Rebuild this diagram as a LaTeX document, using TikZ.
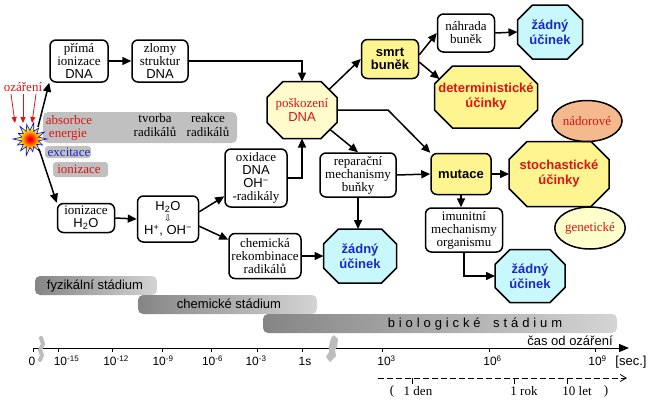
\documentclass[tikz,border=0pt]{standalone}
\usepackage{fontspec}
\setmainfont{Liberation Serif}
\setsansfont{Liberation Sans}
\newfontfamily\djv{DejaVu Sans}
\usetikzlibrary{arrows.meta,shapes.geometric,calc,backgrounds}
\definecolor{yel}{HTML}{FFF590}
\definecolor{pale}{HTML}{FFFBCC}
\definecolor{cyn}{HTML}{C8F8FC}
\definecolor{salm}{HTML}{F5B98E}
\definecolor{genc}{HTML}{FFFFCC}
\definecolor{rd}{HTML}{DC1414}
\definecolor{bl}{HTML}{1A28C8}
\definecolor{band}{HTML}{C0C0C0}
\definecolor{barL}{HTML}{858585}
\definecolor{barR}{HTML}{D4D4D4}
\definecolor{brk}{HTML}{BDBDBD}
\pgfdeclareradialshading{burstshade}{\pgfpoint{0bp}{0bp}}{%
  color(0bp)=(red!90!black); color(3bp)=(red); color(9bp)=(orange);
  color(16bp)=(yellow); color(50bp)=(yellow)}
\tikzset{
  sertext/.style={font=\fontsize{13}{13}\selectfont},
  boxn/.style={draw, line width=1.5pt, rounded corners=6pt, fill=white, align=center, inner sep=1pt, sertext},
  ybox/.style={boxn, fill=yel, font=\fontsize{13}{13}\selectfont\sffamily\bfseries},
  octtxt/.style={draw=none, align=center, inner sep=1pt, outer sep=0pt,
     font=\fontsize{13}{15}\selectfont\sffamily\bfseries},
  octline/.style={draw, line width=1.5pt},
  elln/.style={ellipse, draw, line width=1.5pt, inner sep=0pt, text=rd, sertext},
  arr/.style={-{Triangle[length=9pt,width=8pt]}, line width=1.5pt},
  rarr/.style={-{Triangle[length=6pt,width=5pt]}, line width=0.8pt, rd},
  txt/.style={inner sep=0pt, sertext},
  axl/.style={inner sep=0pt, font=\fontsize{12}{12}\selectfont\sffamily},
  stbar/.style={rounded corners=5pt, left color=barL, right color=barR},
  bartxt/.style={inner sep=0pt, font=\fontsize{13}{13}\selectfont\sffamily},
}
% octagon: #1 name, #2 centre, #3 width, #4 height, #5 chamfer, #6 fill, #7 text style, #8 text
\newcommand\octo[8]{%
  \node[octtxt, #7, minimum width=#3pt, minimum height=#4pt] (#1) at #2 {#8};
  \begin{pgfonlayer}{background}
  \filldraw[octline, fill=#6]
    ($(#1.north west)+(#5,0)$) -- ($(#1.north east)+(-#5,0)$) --
    ($(#1.north east)+(0,#5)$) -- ($(#1.south east)+(0,-#5)$) --
    ($(#1.south east)+(-#5,0)$) -- ($(#1.south west)+(#5,0)$) --
    ($(#1.south west)+(0,-#5)$) -- ($(#1.north west)+(0,#5)$) -- cycle;
  \end{pgfonlayer}}
\begin{document}
\begin{tikzpicture}[x=1pt,y=-1pt]
\useasboundingbox (0,0) rectangle (650,400);

% grey label bands
\fill[band, rounded corners=5pt] (43,112) rectangle (237,143);
\fill[band, rounded corners=3pt] (45,146) rectangle (91,158);
\fill[band, rounded corners=3pt] (53,162) rectangle (108,177);
\node[txt, text=rd] (abs1) at (69,120) {absorbce};
\node[txt, text=rd] (abs2) at (68,134.5) {energie};
\node[txt] (tv1) at (155,118) {tvorba};
\node[txt] (tv2) at (155,132) {radikálů};
\node[txt] (re1) at (208,118) {reakce};
\node[txt] (re2) at (208,132) {radikálů};
\node[txt, text=bl] (exc) at (69,152) {excitace};
\node[txt, text=rd] (ion) at (79,169) {ionizace};
\node[txt, text=rd] (oza) at (23,87) {ozáření};

% burst
\begin{scope}[shift={(30,139)}]
\shadedraw[shading=burstshade, draw=blue, line width=0.6pt]
  (0:17) \foreach \r [count=\i from 0] in {17,14,16,13,17,15,14,17,13,16,15,17,14,16}
  { -- ({\i*360/14}:\r) -- ({\i*360/14+360/28}:8.5) } -- cycle;
\end{scope}

% red arrows
\coordinate (r1s) at (11,94); \coordinate (r1e) at (15,123);
\coordinate (r2s) at (23,94); \coordinate (r2e) at (23,123);
\coordinate (r3s) at (36,94); \coordinate (r3e) at (32,123);
\draw[rarr] (r1s) -- (r1e);
\draw[rarr] (r2s) -- (r2e);
\draw[rarr] (r3s) -- (r3e);

% boxes
\node[boxn, minimum width=58pt, minimum height=42pt] (prima) at (79,61) {přímá\\ionizace\\{\sffamily DNA}};
\node[boxn, minimum width=56pt, minimum height=42pt] (zlomy) at (160,61) {zlomy\\struktur\\{\sffamily DNA}};
\node[boxn, minimum width=57pt, minimum height=29pt] (ionh) at (86,218) {ionizace\\{\sffamily H\textsubscript{2}O}};
\node[boxn, minimum width=61pt, minimum height=46pt, font=\fontsize{13}{13}\selectfont\sffamily] (h2o) at (168,219)
  {H\textsubscript{2}O\\[-2pt]{\djv\fontsize{9}{9}\selectfont ⇩}\\[0pt]H\textsuperscript{+}, OH\textsuperscript{−}};
\node[boxn, minimum width=62pt, minimum height=58pt] (oxid) at (256,178) {oxidace\\{\sffamily DNA}\\{\sffamily OH\textsuperscript{−}}\\-radikály};
\node[boxn, minimum width=72pt, minimum height=45pt] (chem) at (265,256) {chemická\\rekombinace\\radikálů};
\node[boxn, minimum width=76pt, minimum height=44pt] (repar) at (358,175) {reparační\\mechanismy\\buňky};
\node[boxn, minimum width=77pt, minimum height=44pt] (imun) at (464,230) {imunitní\\mechanismy\\organismu};
\node[boxn, minimum width=57pt, minimum height=38pt] (nahr) at (466,33) {náhrada\\buněk};
\node[ybox, minimum width=57pt, minimum height=39pt] (smrt) at (390,59) {smrt\\buněk};
\node[ybox, minimum width=60pt, minimum height=41pt] (mut) at (461,174) {mutace};

% octagons
\octo{posk}{(302,110)}{70}{57}{16}{pale}{text=rd, font=\fontsize{13}{14}\selectfont}{poškození\\{\sffamily DNA}}
\octo{zad1}{(550,32)}{65}{54}{15}{cyn}{text=bl}{žádný\\účinek}
\octo{zad2}{(360,256)}{73}{54}{15}{cyn}{text=bl}{žádný\\účinek}
\octo{zad3}{(530,276)}{70}{53}{15}{cyn}{text=bl}{žádný\\účinek}
\octo{det}{(486,97)}{103}{62}{18}{yel}{text=rd}{deterministické\\účinky}
\octo{stoch}{(559,174)}{100}{65}{18}{yel}{text=rd}{stochastické\\účinky}
\node[elln, fill=salm, minimum width=70pt, minimum height=41pt] (nad) at (587,121) {nádorové};
\node[elln, fill=genc, minimum width=68pt, minimum height=42pt] (gen) at (590,228) {genetické};

% connectors
\coordinate (bu) at (38,127);
\coordinate (bd) at (39,149);
\draw[arr] (bu) -- (prima.south west);
\draw[arr] (bd) -- (ionh.north west);
\draw[arr] (prima.east) -- (zlomy.west);
\draw[arr] (zlomy.east) -| (posk.north);
\draw[arr] (ionh.east) -- (h2o.west);
\draw[arr] (h2o.13) -- (oxid.210);
\draw[arr] (h2o.-13) -- (chem.156);
\draw[arr] (oxid.east) -| (posk.south);
\draw[arr] (chem.east) -- (zad2.west);
\draw[arr] ($(posk.north east)+(-8,8)$) -- (smrt.west);
\draw[arr] ($(posk.south east)+(-7,-9)$) -- (repar.north);
\coordinate (bend) at (388,110);
\draw[arr] (posk.east) -- (bend) -- (mut.north west);
\draw[arr] (repar.east) -- (mut.west);
\draw[arr] (repar.south) -- (repar.south |- zad2.north);
\draw[arr] (smrt.8) -- (nahr.west);
\draw[arr] (smrt.-6) -- ($(det.north west)+(5,13)$);
\draw[arr] (nahr.east) -- (zad1.west);
\draw[arr] (mut.east) -- (stoch.west);
\draw[arr] (mut.south) -- (mut.south |- imun.north);
\draw[arr] (imun.south) |- (zad3.west);

% stage bars
\shade[stbar] (35,276) rectangle (157,295);
\node[bartxt] (fyz) at (95,286) {fyzikální stádium};
\shade[stbar] (138,295) rectangle (317,314);
\node[bartxt] (chst) at (229,304) {chemické stádium};
\shade[stbar] (263,314) rectangle (617,333);
\node[bartxt] (bio) at (475,324) {\addfontfeature{LetterSpace=30}biologické\hspace{5pt} stádium};

% time axis
\coordinate (a0) at (33,348);
\coordinate (a1) at (629,348);
\draw[line width=1pt, -{Triangle[length=10pt,width=8pt]}] (a0) -- (a1);
\foreach \x in {33,58,112,162,211,257,302,382,489,595}
  \draw[line width=1pt] (\x,348) -- (\x,352);
\draw[brk, line width=4pt, line cap=round, line join=round] (41,338) -- (43,344) -- (40,350) -- (42,355) -- (40,360);
\fill[brk] (331,338) -- (334,335) -- (338,339) -- (337,347) -- (335,350) -- (336,356) -- (330,362) -- (326,357) -- (329,352) -- (329,346) -- cycle;
\node[axl] (t0) at (32,361) {0};
\node[axl] (t1) at (66.5,361) {10\textsuperscript{-15}};
\node[axl] (t2) at (116,361) {10\textsuperscript{-12}};
\node[axl] (t3) at (163,361) {10\textsuperscript{-9}};
\node[axl] (t4) at (212.5,361) {10\textsuperscript{-6}};
\node[axl] (t5) at (256,361) {10\textsuperscript{-3}};
\node[axl] (t6) at (305,361) {1s};
\node[axl] (t7) at (386.5,361) {10\textsuperscript{3}};
\node[axl] (t8) at (492.5,361) {10\textsuperscript{6}};
\node[axl] (t9) at (597.5,361) {10\textsuperscript{9}};
\node[bartxt] (sec) at (631,362) {[sec.]};
\node[bartxt] (cas) at (570,341) {čas od ozáření};

% dashed scale
\coordinate (d0) at (378,378);
\coordinate (d1) at (627,378);
\draw[line width=0.8pt, dash pattern=on 6pt off 3pt, -{Straight Barb[length=6pt,width=7pt]}] (d0) -- (d1);
\foreach \x in {412,514,567}
  \draw[line width=0.8pt] (\x,378) -- (\x,384);
\node[txt] (p1) at (392,391) {(};
\node[txt] (den) at (418,391) {1 den};
\node[txt] (rok) at (524,391) {1 rok};
\node[txt] (let) at (577,391) {10 let};
\node[txt] (p2) at (606,391) {)};
\end{tikzpicture}
\end{document}
